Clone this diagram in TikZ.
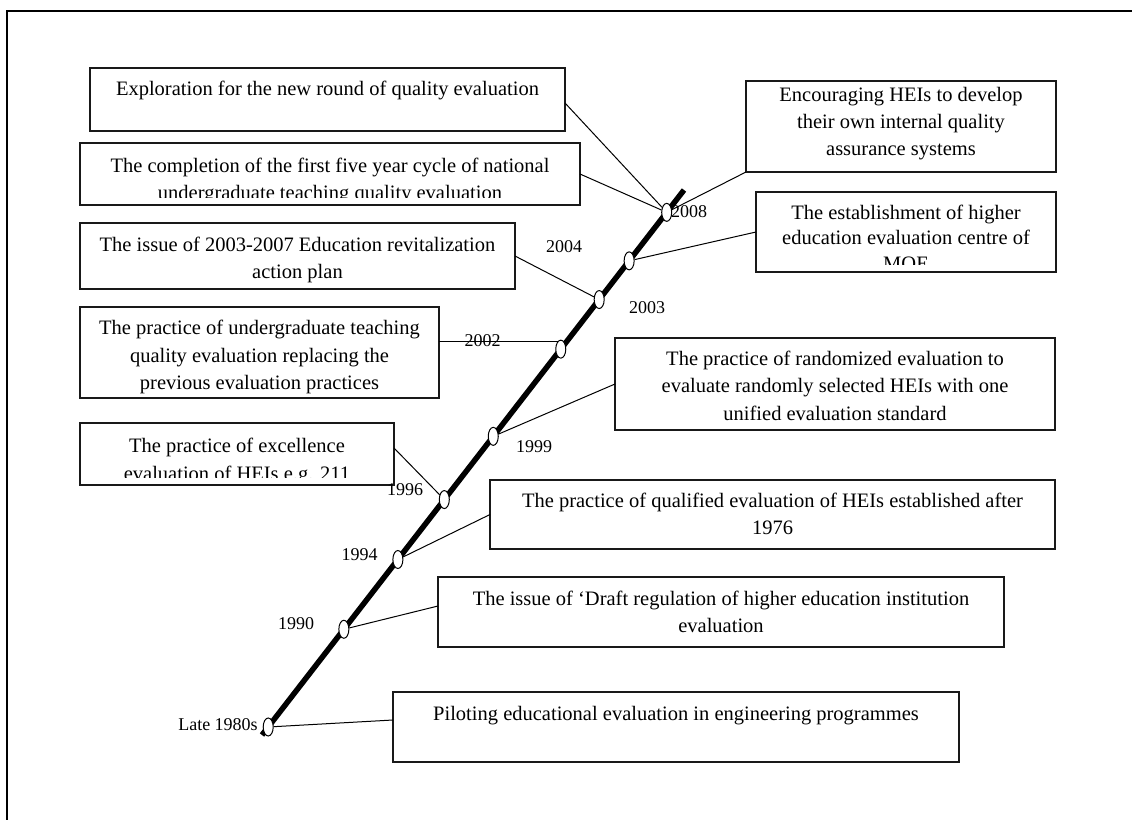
\documentclass[tikz,border=0pt]{standalone}
\usepackage{fontspec}
\setmainfont{Liberation Serif}
\usetikzlibrary{calc,shapes.geometric}
\begin{document}
\begin{tikzpicture}[x=1pt,y=-1pt,
  tbox/.style={draw=black!90,line width=1.3pt,rectangle,inner sep=0pt,outer sep=0pt,anchor=north west},
  txt/.style={anchor=base,inner sep=0pt,font=\fontsize{20.5}{27}\selectfont},
  yr/.style={inner sep=0pt,font=\fontsize{18}{20}\selectfont},
  link/.style={line width=1pt},
  dot/.style={ellipse,draw,fill=white,line width=1pt,minimum width=10pt,minimum height=18pt,inner sep=0pt}]
\useasboundingbox (0,0) rectangle (1132,819);
\draw[line width=1.3pt] (7,830) -- (7,11) -- (1140,11);

% boxes
\node[tbox,minimum width=475pt,minimum height=63pt] (b1) at (90,68) {};
\node[tbox,minimum width=310pt,minimum height=91pt] (enc) at (746,81) {};
\node[tbox,minimum width=500pt,minimum height=62pt] (b2) at (80,143) {};
\node[tbox,minimum width=300pt,minimum height=80pt] (est) at (756,192) {};
\node[tbox,minimum width=435pt,minimum height=66pt] (b3) at (80,223) {};
\node[tbox,minimum width=359pt,minimum height=91pt] (b4) at (80,307) {};
\node[tbox,minimum width=440pt,minimum height=92pt] (rnd) at (615,338) {};
\node[tbox,minimum width=314pt,minimum height=62pt] (exc) at (80,423) {};
\node[tbox,minimum width=565pt,minimum height=69pt] (qual) at (490,480) {};
\node[tbox,minimum width=566pt,minimum height=70pt] (draft) at (438,577) {};
\node[tbox,minimum width=566pt,minimum height=70pt] (pil) at (393,692) {};

% box texts
\node[txt] (t1) at (327.5,95) {Exploration for the new round of quality evaluation};
\node[txt] (tenc1) at (901,101) {Encouraging HEIs to develop};
\node[txt] (tenc2) at (901,128) {their own internal quality};
\node[txt] (tenc3) at (901,155) {assurance systems};
\begin{scope}
\clip (80,143) rectangle (580,197);
\node[txt] (t2a) at (330,172) {The completion of the first five year cycle of national};
\node[txt] (t2b) at (330,199) {undergraduate teaching quality evaluation};
\end{scope}
\begin{scope}
\clip (756,192) rectangle (1056,264);
\node[txt] (test1) at (906,219) {The establishment of higher};
\node[txt] (test2) at (906,244.5) {education evaluation centre of};
\node[txt] (test3) at (906,270) {MOE};
\end{scope}
\node[txt] (t3a) at (297.5,251) {The issue of 2003-2007 Education revitalization};
\node[txt] (t3b) at (297.5,278) {action plan};
\node[txt] (t4a) at (259.5,334) {The practice of undergraduate teaching};
\node[txt] (t4b) at (259.5,362) {quality evaluation replacing the};
\node[txt] (t4c) at (259.5,389) {previous evaluation practices};
\node[txt] (trnd1) at (835,365) {The practice of randomized evaluation to};
\node[txt] (trnd2) at (835,392) {evaluate randomly selected HEIs with one};
\node[txt] (trnd3) at (835,420) {unified evaluation standard};
\begin{scope}
\clip (80,423) rectangle (394,477);
\node[txt] (texc1) at (237,452) {The practice of excellence};
\node[txt] (texc2) at (237,480) {evaluation of HEIs e.g. 211};
\end{scope}
\node[txt] (tq1) at (772.5,507) {The practice of qualified evaluation of HEIs established after};
\node[txt] (tq2) at (772.5,534) {1976};
\node[txt] (td1) at (721,605) {The issue of ‘Draft regulation of higher education institution};
\node[txt] (td2) at (721,632) {evaluation};
\node[txt] (tp) at (676,720) {Piloting educational evaluation in engineering programmes};

% year labels
\node[yr] (y2008) at (689,212) {2008};
\node[yr] (y2004) at (564,247) {2004};
\node[yr] (y2003) at (647,308) {2003};
\node[yr] (y2002) at (482.5,341) {2002};
\node[yr] (y1999) at (534,447) {1999};
\node[yr] (y1996) at (405,490) {1996};
\node[yr] (y1994) at (359.5,555) {1994};
\node[yr] (y1990) at (296,624) {1990};
\node[yr] (y1980) at (218,725) {Late 1980s};

% time axis
\coordinate (A) at (262,735);
\coordinate (B) at (684,190);
\draw[line width=5.5pt] (A) -- (B);

\node[dot] (e1980) at ($(A)!0.0147!(B)$) {};
\node[dot] (e1990) at ($(A)!0.194!(B)$) {};
\node[dot] (e1994) at ($(A)!0.322!(B)$) {};
\node[dot] (e1996) at ($(A)!0.432!(B)$) {};
\node[dot] (e1999) at ($(A)!0.548!(B)$) {};
\node[dot] (e2002) at ($(A)!0.708!(B)$) {};
\node[dot] (e2004) at ($(A)!0.799!(B)$) {};
\node[dot] (e2003) at ($(A)!0.870!(B)$) {};
\node[dot] (e2008) at ($(A)!0.959!(B)$) {};

% connectors
\draw[link] ([yshift=-3.5pt]b1.east) -- (e2008);
\draw[link] (b2.east) -- (e2008);
\draw[link] (enc.south west) -- (e2008);
\draw[link] (est.west) -- (e2003);
\draw[link] (b3.east) -- (e2004);
\draw[link] (e2002.110) -- (e2002.110 -| b4.east);
\draw[link] (rnd.west) -- (e1999);
\draw[link] ([yshift=6pt]exc.east) -- (e1996);
\draw[link] (qual.west) -- (e1994);
\draw[link] ([yshift=6pt]draft.west) -- (e1990);
\draw[link] ([yshift=7pt]pil.west) -- (e1980);
\end{tikzpicture}
\end{document}
